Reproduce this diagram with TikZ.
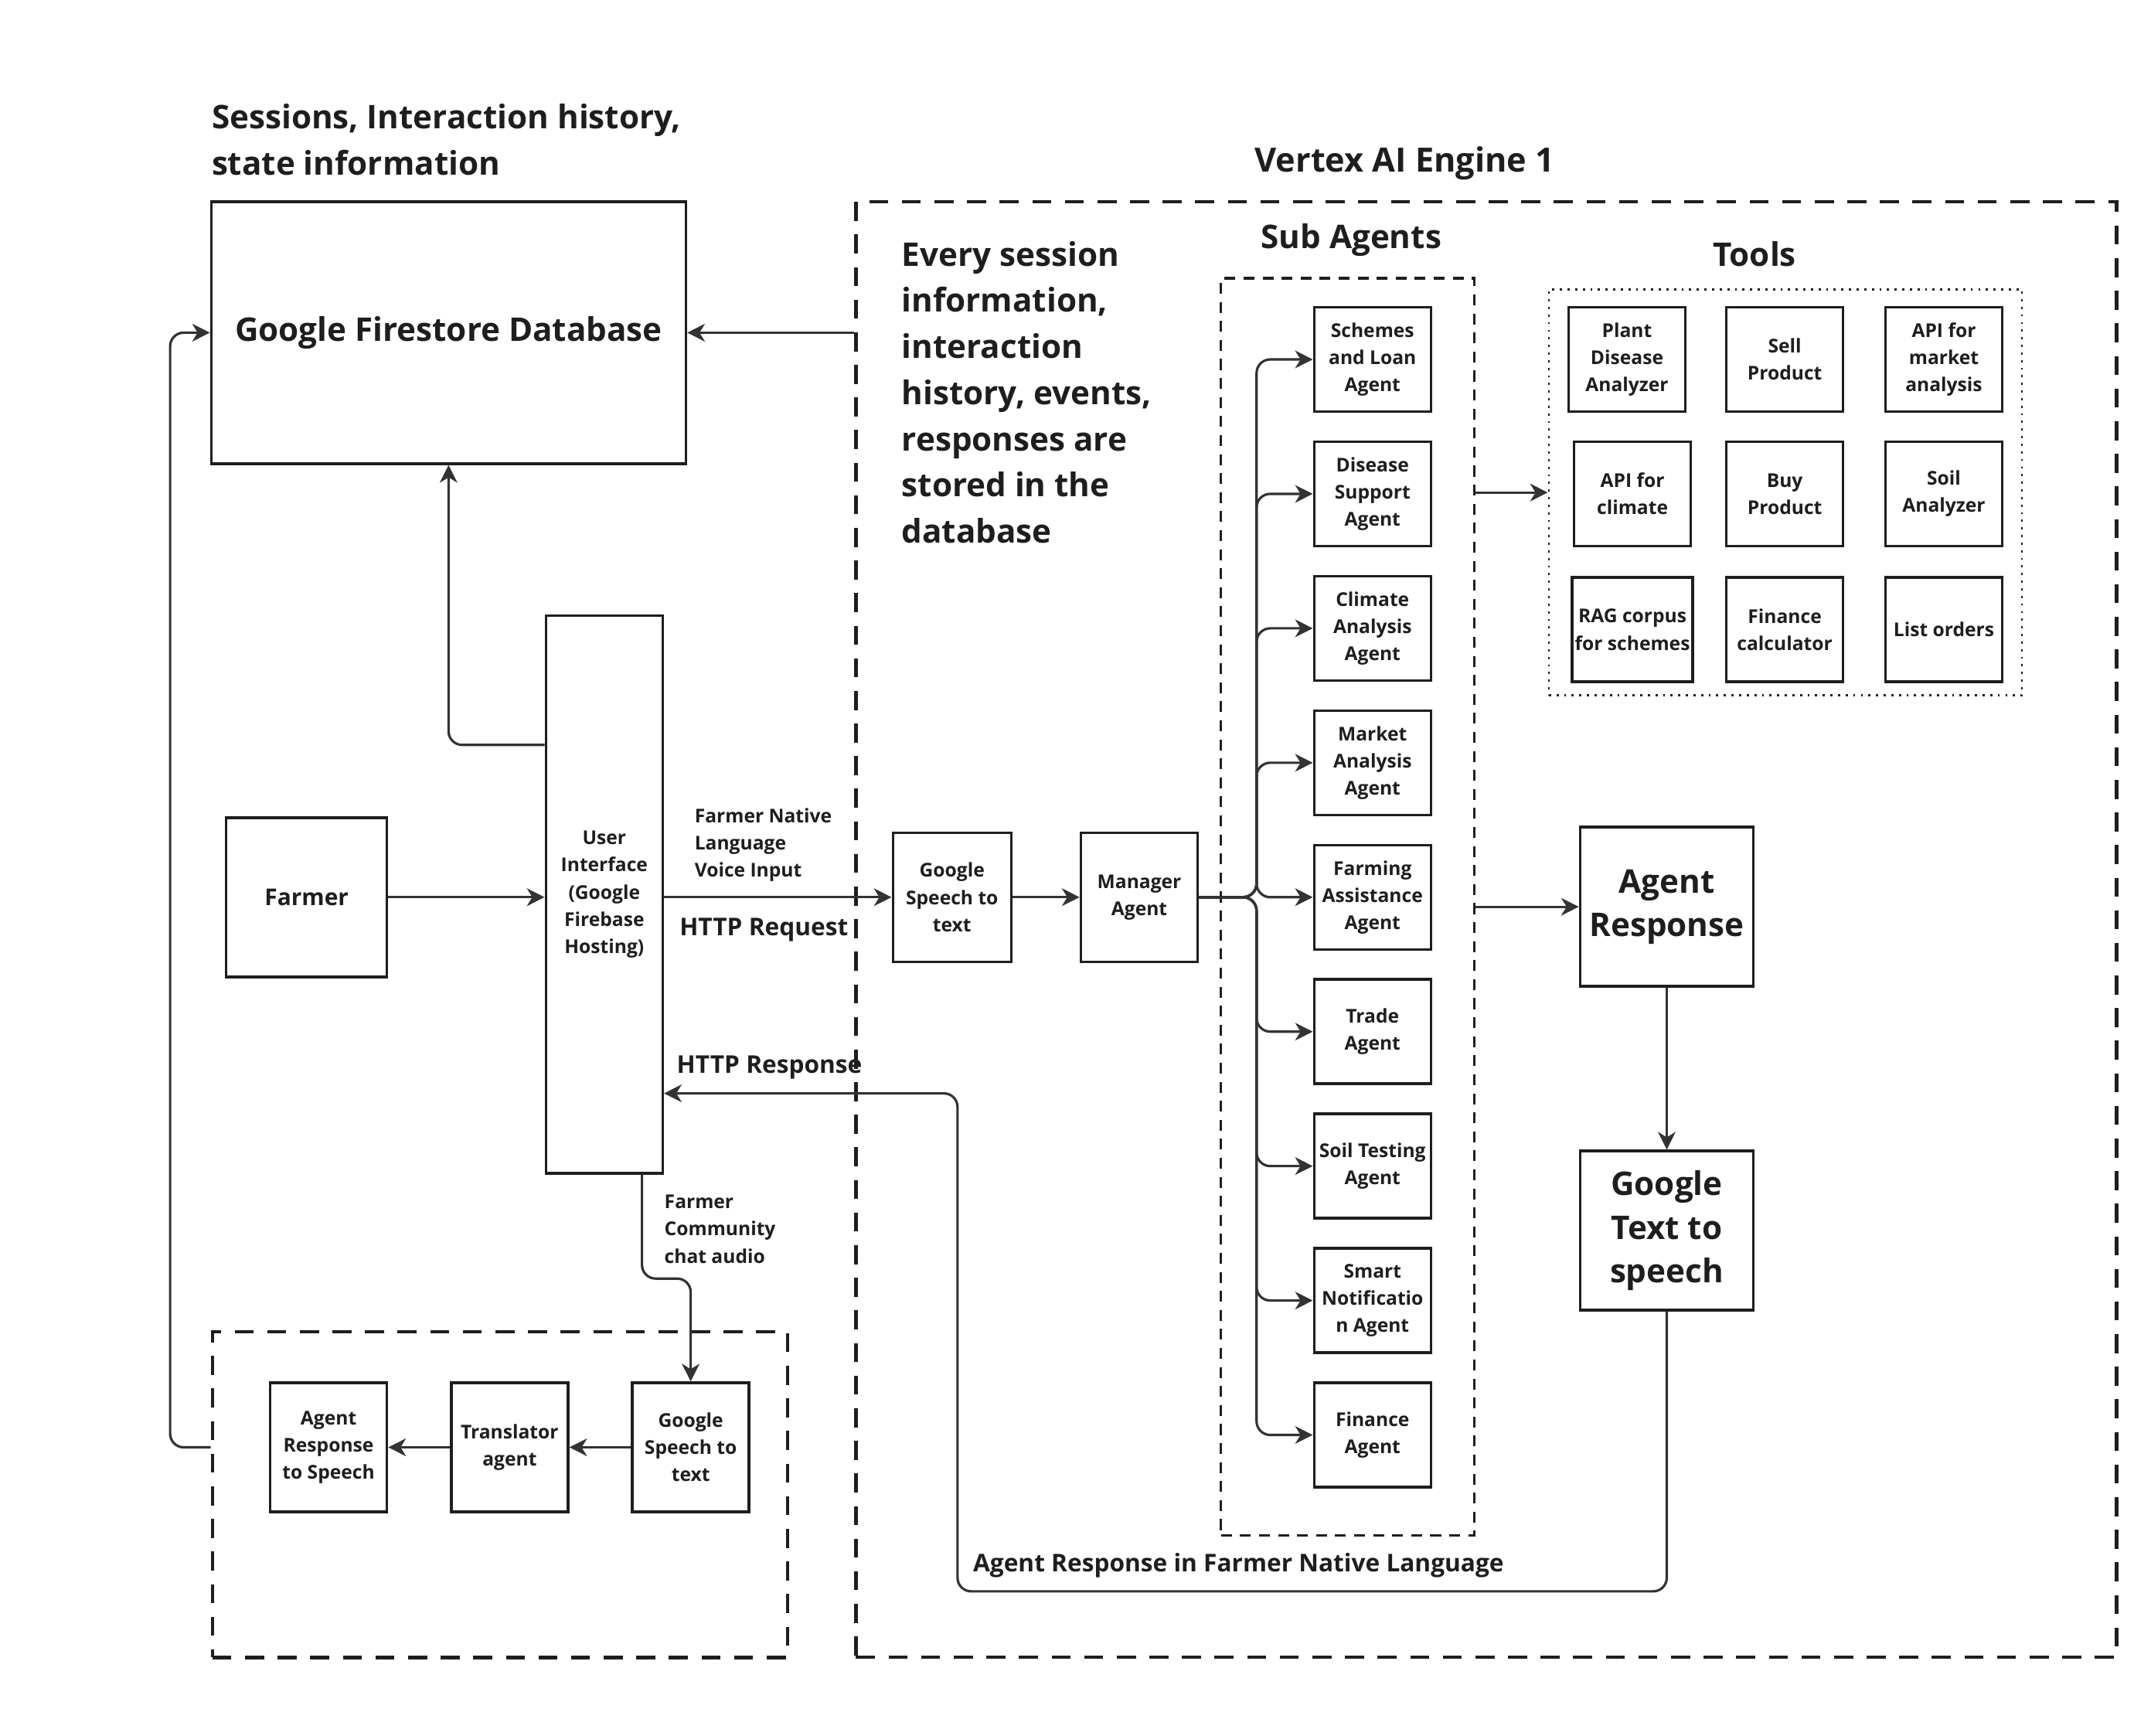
\documentclass[tikz,border=0pt]{standalone}
\usepackage{fontspec}
\setmainfont{Open Sans}
\usetikzlibrary{arrows.meta,positioning}
\definecolor{ink}{HTML}{1E1E1E}
\definecolor{wire}{HTML}{333333}
\tikzset{box/.style = {draw=ink, line width=1pt, align=center, text=ink, inner sep=1pt,
                       font=\bfseries\fontsize{7}{10}\selectfont}}
\tikzset{agent/.style = {box, minimum width=1.51cm, minimum height=1.35cm}}
\tikzset{bigbox/.style = {box, font=\bfseries\fontsize{12}{16}\selectfont}}
\tikzset{frame/.style = {draw=ink, line width=1.3pt, dash pattern=on 7pt off 5pt}}
\tikzset{conn/.style = {draw=wire, line width=0.9pt, rounded corners=5pt,
                        -{Stealth[length=6.5pt,width=6.5pt,inset=2pt]}}}
\tikzset{title/.style = {text=ink, inner sep=0pt, font=\bfseries\fontsize{12}{17}\selectfont, align=left}}
\tikzset{lbl/.style = {text=ink, inner sep=0pt, font=\bfseries\fontsize{7}{10}\selectfont, align=left}}

\begin{document}
\begin{tikzpicture}[x=0.01775cm, y=-0.01775cm]
  \useasboundingbox (0,0) rectangle (1568,1265);

  % frames
  \node[frame, minimum width=16.31cm, minimum height=18.83cm] (vertex) at (1083.5,677.5) {};
  \node[frame, minimum width=7.44cm, minimum height=4.21cm] (chat) at (364.5,1089.5) {};
  \node[draw=ink, line width=0.9pt, dash pattern=on 4pt off 3pt,
        minimum width=3.28cm, minimum height=16.26cm] (subbox) at (982.5,661) {};
  \node[draw=ink, line width=0.8pt, dotted,
        minimum width=6.12cm, minimum height=5.25cm] (toolbox) at (1301.5,359) {};

  % titles
  \node[title, anchor=west] at (154,102) {Sessions, Interaction history,\\state information};
  \node[title, font=\bfseries\fontsize{12.3}{17}\selectfont] at (1024,119) {Vertex AI Engine 1};
  \node[title, anchor=west] at (657,286)
    {Every session\\information,\\interaction\\history, events,\\responses are\\stored in the\\database};
  \node[title] at (985,175) {Sub Agents};
  \node[title] at (1279,185) {Tools};

  % left side
  \node[box, font=\bfseries\fontsize{12}{16}\selectfont, minimum width=6.14cm, minimum height=3.39cm]
    (fs) at (327,242.5) {Google Firestore Database};
  \node[box, font=\bfseries\fontsize{8.5}{12}\selectfont, minimum width=2.08cm, minimum height=2.06cm]
    (farmer) at (223.5,654) {Farmer};
  \node[box, minimum width=1.51cm, minimum height=7.21cm] (ui) at (440.5,652)
    {User\\Interface\\(Google\\Firebase\\Hosting)};
  \node[box, minimum width=1.53cm, minimum height=1.67cm] (gst) at (694,654) {Google\\Speech to\\text};
  \node[box, minimum width=1.51cm, minimum height=1.67cm] (mgr) at (830.5,654) {Manager\\Agent};

  % community chat
  \node[box, minimum width=1.51cm, minimum height=1.67cm] (ars) at (239.5,1055) {Agent\\Response\\to Speech};
  \node[box, minimum width=1.51cm, minimum height=1.67cm] (trans) at (371.5,1055) {Translator\\agent};
  \node[box, minimum width=1.51cm, minimum height=1.67cm] (gst2) at (503.5,1055) {Google\\Speech to\\text};

  % sub agents
  \foreach \t [count=\i] in {{Schemes\\and Loan\\Agent}, {Disease\\Support\\Agent},
      {Climate\\Analysis\\Agent}, {Market\\Analysis\\Agent}, {Farming\\Assistance\\Agent},
      {Trade\\Agent}, {Soil Testing\\Agent}, {Smart\\Notificatio\\n Agent}, {Finance\\Agent}}
    \node[agent] (sa\i) at (1000.5,{262+98*(\i-1)}) {\t};

  % tools
  \node[agent] (plant)  at (1186,262) {Plant\\Disease\\Analyzer};
  \node[agent] (sell)   at (1301,262) {Sell\\Product};
  \node[agent] (market) at (1417,262) {API for\\market\\analysis};
  \node[agent] (climate) at (1190,360) {API for\\climate};
  \node[agent] (buy)    at (1301,360) {Buy\\Product};
  \node[agent] (soil)   at (1417,360) {Soil\\Analyzer};
  \node[agent] (rag)    at (1190,459) {RAG corpus\\for schemes};
  \node[agent] (fin)    at (1301,459) {Finance\\calculator};
  \node[agent] (orders) at (1417,459) {List orders};

  \node[bigbox, minimum width=2.24cm, minimum height=2.06cm] (resp) at (1215,661) {Agent\\Response};
  \node[bigbox, minimum width=2.24cm, minimum height=2.06cm] (tts) at (1215,897) {Google\\Text to\\speech};

  % connectors
  \draw[conn] (vertex.west |- fs.east) -- (fs.east);
  \draw[conn] (ui.west |- 0,543) -| (fs.south);
  \draw[conn] (farmer.east) -- (farmer.east -| ui.west);
  \draw[conn] (ui.east |- gst.west) -- (gst.west);
  \node[lbl, anchor=west] at (506,616) {Farmer Native\\Language\\Voice Input};
  \node[lbl, anchor=west, font=\bfseries\fontsize{9}{12}\selectfont] at (495,678) {HTTP Request};
  \draw[conn] (gst) -- (mgr);
  \foreach \i in {1,...,9}
    \draw[conn] (mgr.east) -- (916,654) |- (sa\i.west);
  \draw[conn] (subbox.east |- toolbox.west) -- (toolbox.west);
  \draw[conn] (subbox.east |- resp.west) -- (resp.west);
  \draw[conn] (resp) -- (tts);
  \draw[conn] (tts.south) |- (698,1160) |- (ui.east |- 0,797);
  \node[lbl, anchor=west, font=\bfseries\fontsize{9}{12}\selectfont] at (493,778) {HTTP Response};
  \node[lbl, anchor=west, font=\bfseries\fontsize{9}{12}\selectfont] at (709,1141) {Agent Response in Farmer Native Language};

  \draw[conn] (ui.south -| 468,0) |- (503.5,932) -- (gst2.north);
  \node[lbl, anchor=west] at (484,896) {Farmer\\Community\\chat audio};
  \draw[conn] (gst2) -- (trans);
  \draw[conn] (trans) -- (ars);
  \draw[conn] (chat.west |- 0,1055) -- (124,1055) |- (fs.west);
\end{tikzpicture}
\end{document}
